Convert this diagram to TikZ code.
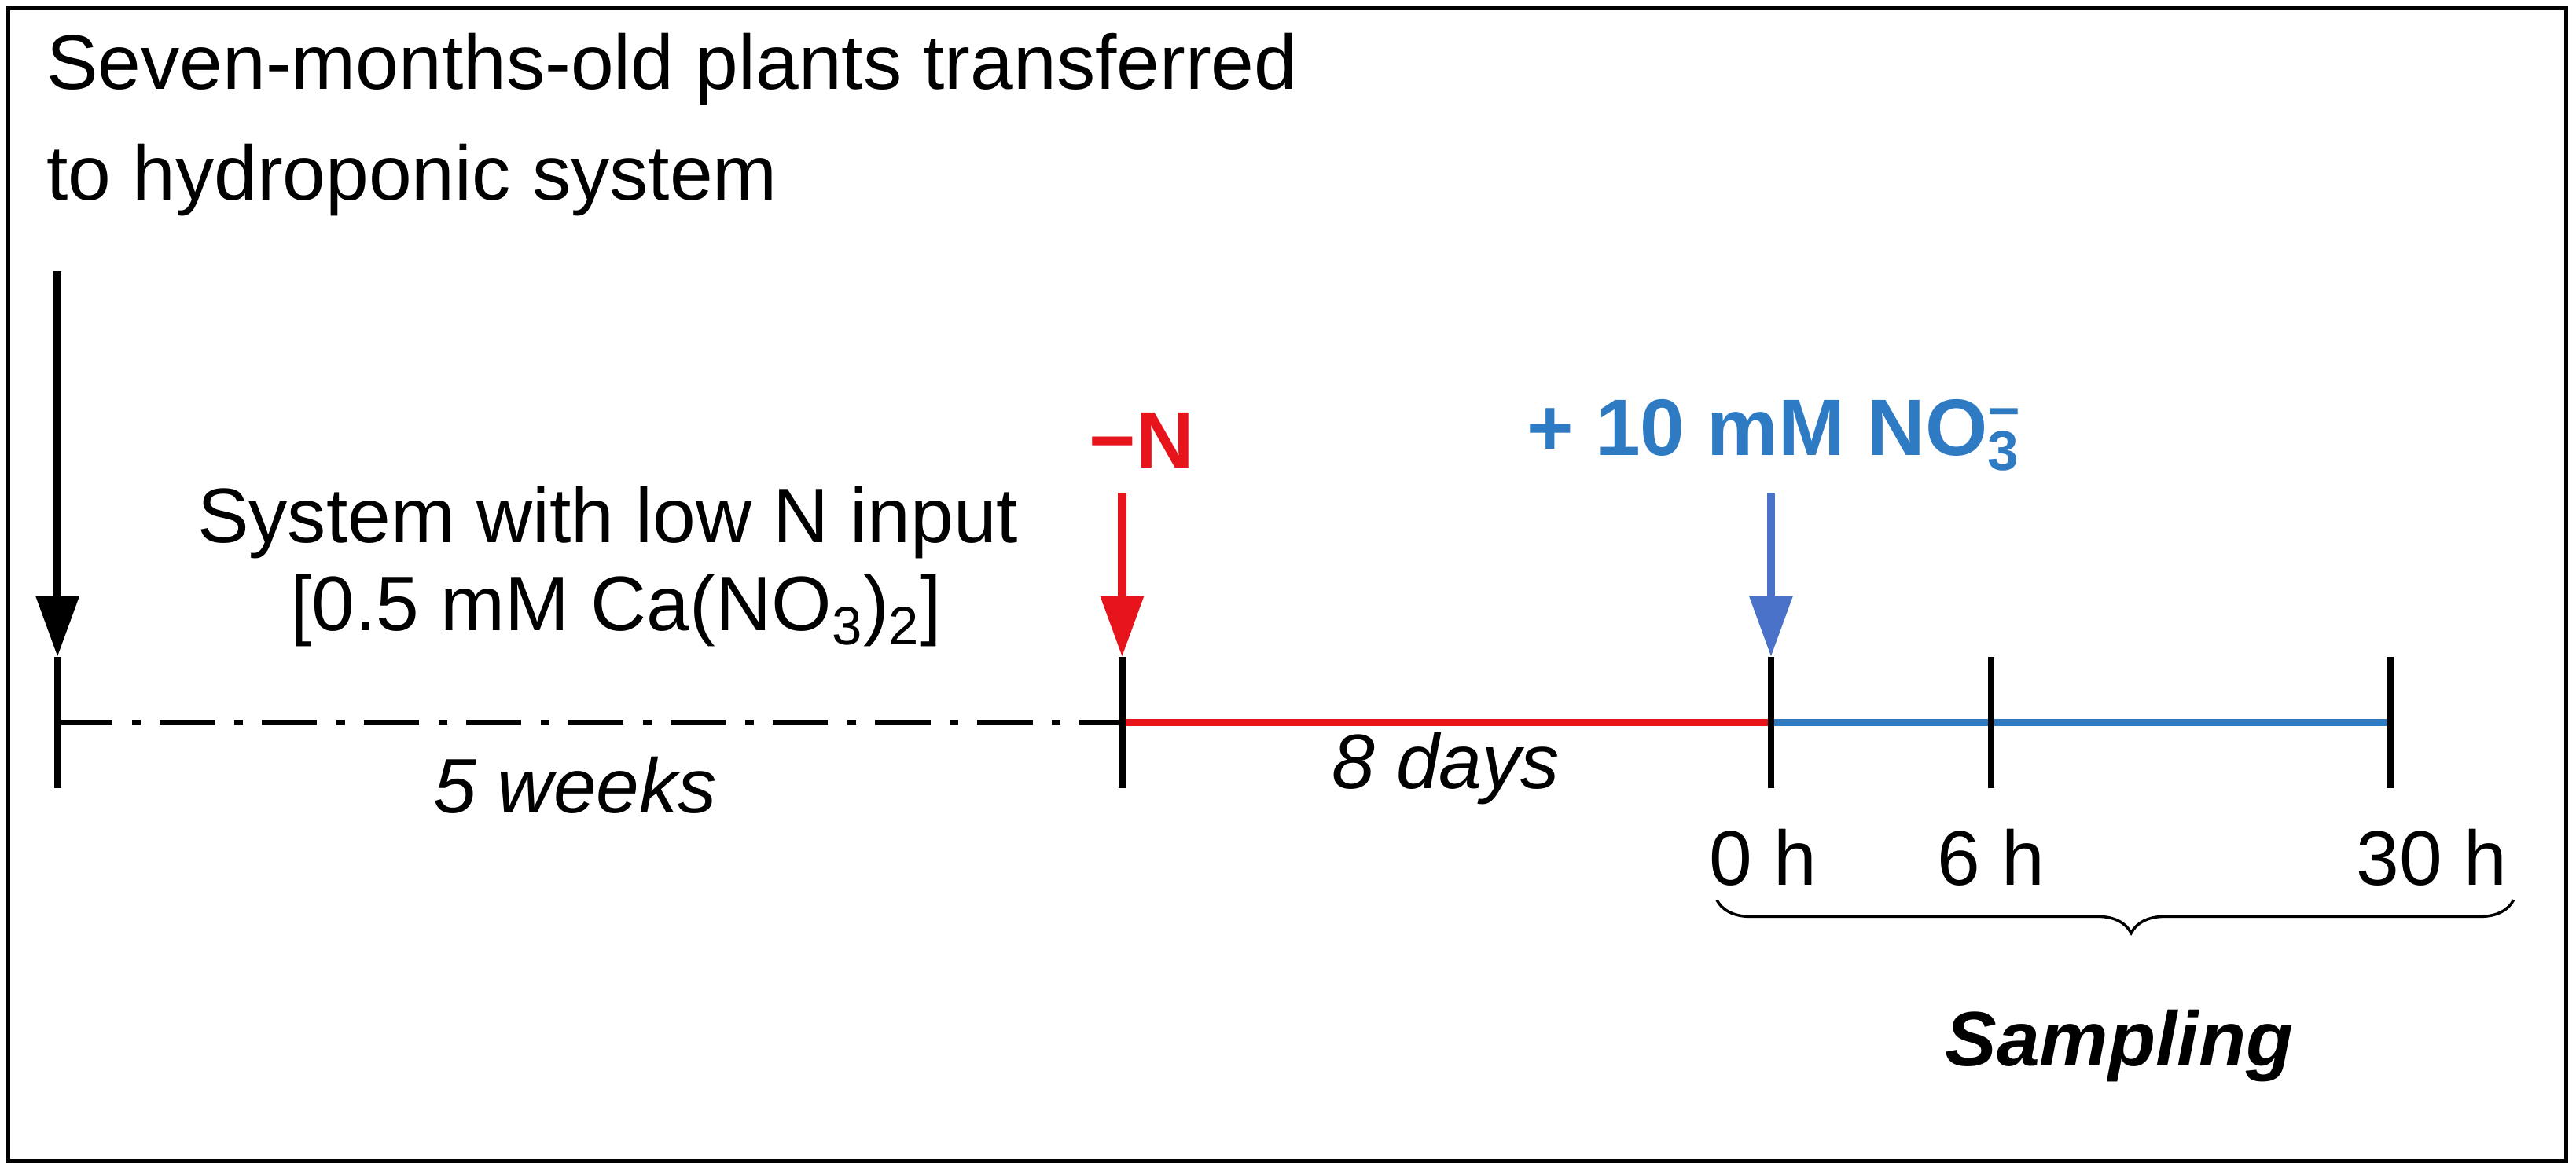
\documentclass[tikz,border=0pt]{standalone}
\usepackage{fontspec}
\setmainfont{Liberation Sans}
\usetikzlibrary{decorations.pathreplacing,arrows.meta}
\definecolor{myred}{HTML}{E8141B}
\definecolor{myblue}{HTML}{2E7BC4}
\definecolor{arrblue}{HTML}{4A72C8}
\begin{document}
\begin{tikzpicture}[x=0.0209cm,y=-0.0209cm,
  lbl/.style={font=\fontsize{28}{40}\selectfont, inner sep=0pt},
  tick/.style={line width=2.5pt},
  arr/.style={line width=3pt,-{Triangle[length=22pt,width=15pt]}}]
\useasboundingbox (0,0) rectangle (1568,712);
\draw[line width=1.5pt] (5,5) rectangle (1562,707);
\node[lbl,anchor=north west,align=left] (title) at (28,20) {Seven-months-old plants transferred\\to hydroponic system};
\coordinate (a0) at (35,165);
\coordinate (t0) at (35,400);
\coordinate (t0b) at (35,480);
\draw[arr] (a0) -- (t0);
\coordinate (t1) at (683,400); \coordinate (t1b) at (683,480);
\coordinate (t2) at (1078,400); \coordinate (t2b) at (1078,480);
\coordinate (t3) at (1212,400); \coordinate (t3b) at (1212,480);
\coordinate (t4) at (1455,400); \coordinate (t4b) at (1455,480);
\coordinate (l0) at (35,440); \coordinate (l1) at (683,440);
\coordinate (l2) at (1078,440); \coordinate (l4) at (1455,440);
\draw[line width=1.8pt, dash pattern=on 20pt off 7pt on 3pt off 7pt] (l0) -- (l1);
\draw[line width=2.5pt, myred] (l1) -- (l2);
\draw[line width=2.5pt, myblue] (l2) -- (l4);
\foreach \a/\b in {t0/t0b,t1/t1b,t2/t2b,t3/t3b,t4/t4b} \draw[tick] (\a) -- (\b);
\node[lbl] (sys1) at (370,318) {System with low N input};
\node[lbl] (sys2) at (375,372) {[0.5 mM Ca(NO\textsubscript{3})\textsubscript{2}]};
\node[lbl,font=\fontsize{28}{40}\selectfont\itshape] (w5) at (350,478) {5 weeks};
\node[lbl,font=\fontsize{28}{40}\selectfont\itshape] (d8) at (880,468) {8 days};
\node[lbl,font=\fontsize{29}{40}\selectfont\bfseries,text=myred] (mn) at (695,268) {−N};
\coordinate (mna) at (683,300);
\draw[arr,myred] (mna) -- (t1);
\node[lbl,font=\fontsize{29}{40}\selectfont\bfseries,text=myblue] (pn) at (1080,265) {+ 10 mM NO\rlap{\textsubscript{3}}\textsuperscript{−}};
\coordinate (pna) at (1078,300);
\draw[arr,arrblue] (pna) -- (t2);
\node[lbl] (h0) at (1073,522) {0 h};
\node[lbl] (h6) at (1212,522) {6 h};
\node[lbl] (h30) at (1480,522) {30 h};
\coordinate (b1) at (1045,548); \coordinate (b2) at (1530,548);
\draw[line width=1pt, decorate, decoration={brace,mirror,amplitude=12pt,aspect=0.52}] (b1) -- (b2);
\node[lbl,font=\fontsize{28}{40}\selectfont\bfseries\itshape] (samp) at (1290,637) {Sampling};
\end{tikzpicture}
\end{document}
